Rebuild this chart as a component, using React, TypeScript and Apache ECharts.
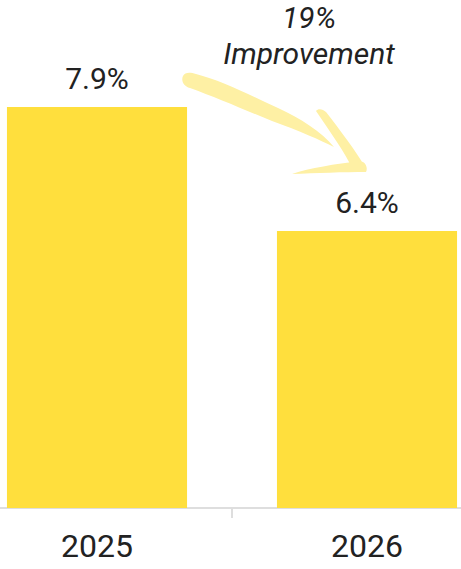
import React, { useEffect, useRef } from "react";
import * as echarts from "echarts";

const categories = ["2025", "2026"];
const values = [7.9, 6.4];
const annotationLines = ["19%", "Improvement"];

const ARROW_D =
  "M183,76 C185,72 190,72 196,74 C220,80 250,95 278,108 C300,118 322,132 334,147 C320,140 300,131 272,121 C245,110 215,97 190,88 C183,86 181,80 183,76 Z " +
  "M316,111 C318,108 323,109 326,112 C340,130 355,150 366,168 C362,172 356,172 353,170 C345,152 330,132 316,111 Z " +
  "M292,174 C310,168 335,164 360,161 C366,162 368,168 366,172 C345,172 315,173 292,174 Z";

const OFFSET = 38;
let registered = false;

export default function App() {
  const ref = useRef<HTMLDivElement>(null);
  useEffect(() => {
    if (!ref.current) return;
    if (!registered) {
      echarts.graphic.registerShape("arrowBrush", echarts.graphic.extendPath(ARROW_D, {}) as any);
      registered = true;
    }
    const chart = echarts.init(ref.current, null, { renderer: "svg" });
    chart.setOption({
      animation: false,
      grid: { left: 0, right: 0, top: 16, bottom: 61, containLabel: false },
      xAxis: {
        type: "category",
        data: categories,
        axisLine: { show: true, lineStyle: { color: "#dedede", width: 2 } },
        axisTick: { show: true, length: 10, lineStyle: { color: "#dedede", width: 2 } },
        axisLabel: {
          color: "#222",
          fontSize: 32,
          fontFamily: "Roboto",
          margin: 22,
        },
      },
      yAxis: {
        type: "value",
        min: 3.05,
        max: 9,
        show: false,
        splitLine: { show: false },
      },
      series: [
        {
          type: "bar",
          data: values,
          barCategoryGap: "33.3%",
          itemStyle: { color: "#FFDF3D" },
          label: {
            show: true,
            position: "top",
            distance: 13,
            formatter: (p: any) => p.value + "%",
            color: "#222",
            fontSize: 30,
            fontFamily: "Roboto",
          },
        },
      ],
      graphic: [
        {
          type: "group",
          x: OFFSET,
          y: 0,
          silent: true,
          children: [
            {
              type: "arrowBrush",
              x: 0,
              y: 0,
              style: { fill: "#FEF0A4" },
            },
            {
              type: "text",
              x: 309,
              y: 35,
              style: {
                text: annotationLines.join("\n"),
                fontSize: 30,
                lineHeight: 36,
                fontStyle: "italic",
                fontFamily: "Roboto",
                fill: "#222",
                align: "center",
                verticalAlign: "middle",
              },
            },
          ],
        },
      ],
    });
    return () => chart.dispose();
  }, []);
  return (
    <div style={{ position: "absolute", left: 0, top: 0, width: 461, height: 569, overflow: "hidden" }}>
      <div ref={ref} style={{ width: 540, height: 569, position: "absolute", left: -OFFSET, top: 0 }} />
    </div>
  );
}
